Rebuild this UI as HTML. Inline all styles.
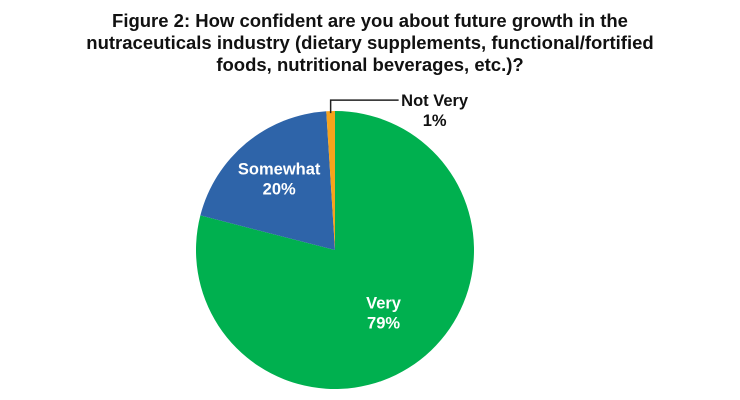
<!DOCTYPE html>
<html><head><meta charset="utf-8"><style>
body{margin:0;background:#fff;width:740px;height:400px;overflow:hidden;font-family:"Liberation Sans",sans-serif}
#title{position:absolute;left:0;width:740px;top:10px;text-align:center;font-weight:bold;font-size:18.5px;line-height:22px;color:#111}
</style></head><body>
<div id="title">Figure 2: How confident are you about future growth in the<br>nutraceuticals industry (dietary supplements, functional/fortified<br>foods, nutritional beverages, etc.)?</div>
<svg id="pie" width="740" height="400" style="position:absolute;left:0;top:0"></svg>
<script>
const categories=["Very","Somewhat","Not Very"];
const values=[79,20,1];
const colors=["#00b04f","#2e64a9","#f7a31c"];
const svg=document.getElementById('pie');
const NS="http://www.w3.org/2000/svg";
const cx=335,cy=250,r=139;
const total=values.reduce((a,b)=>a+b,0);
function pt(frac,rad){const a=frac*2*Math.PI;return [cx+rad*Math.sin(a),cy-rad*Math.cos(a)];}
let acc=0;
const mids=[];
values.forEach((v,i)=>{
  const s=acc/total,e=(acc+v)/total;acc+=v;
  const [x1,y1]=pt(s,r),[x2,y2]=pt(e,r);
  const p=document.createElementNS(NS,'path');
  p.setAttribute('d',`M${cx},${cy}L${x1},${y1}A${r},${r} 0 ${e-s>0.5?1:0} 1 ${x2},${y2}Z`);
  p.setAttribute('fill',colors[i]);
  
  
  svg.appendChild(p);
  mids.push((s+e)/2);
});
function label(x,y,lines,fill,name){
  const t=document.createElementNS(NS,'text');
  t.setAttribute('x',x);t.setAttribute('y',y);t.setAttribute('text-anchor','middle');
  t.setAttribute('font-size','16.5');t.setAttribute('font-weight','bold');t.setAttribute('fill',fill);
  t.setAttribute('font-family','Liberation Sans, sans-serif');
  lines.forEach((l,k)=>{const ts=document.createElementNS(NS,'tspan');ts.setAttribute('x',x);ts.setAttribute('dy',k?20:0);ts.textContent=l;t.appendChild(ts);});
  
  
  svg.appendChild(t);
}
// Very label
let [vx,vy]=pt(mids[0],0.57*r);
label(vx,vy-4,[categories[0],values[0]+"%"],"#fff","label-very");
let [sx,sy]=pt(mids[1],0.63*r);
label(sx,sy-8,[categories[1],values[1]+"%"],"#fff","label-somewhat");
// leader for Not Very
const [nx,ny]=pt(mids[2],r);
const ld=document.createElementNS(NS,'polyline');
ld.setAttribute('points',`${nx},${ny+2} ${nx},${ny-11} ${nx+68},${ny-11}`);
ld.setAttribute('fill','none');ld.setAttribute('stroke','#222');ld.setAttribute('stroke-width','1.5');


svg.appendChild(ld);
label(nx+104,ny-5,[categories[2],values[2]+"%"],"#111","label-not-very");
</script>
</body></html>
